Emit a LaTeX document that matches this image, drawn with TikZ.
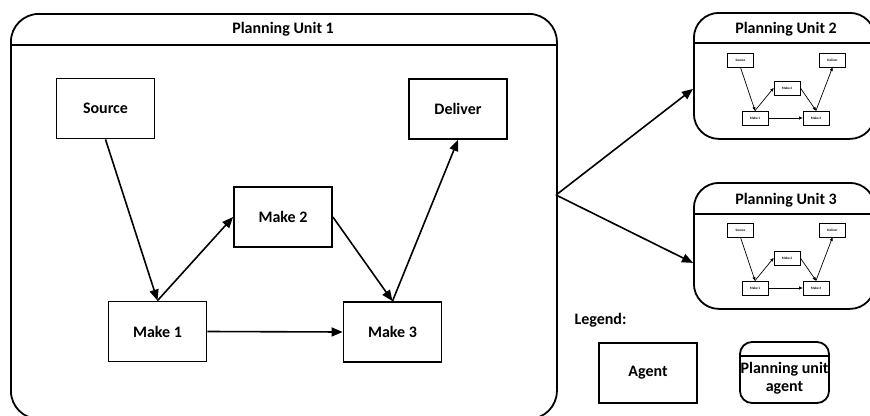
\documentclass[tikz,border=0pt]{standalone}
\usepackage{fontspec}
\setmainfont{Carlito}
\usetikzlibrary{arrows.meta}

\tikzset{
  lbl/.style={font=\bfseries\fontsize{16}{18}\selectfont},
  agent/.style={draw, line width=1.8pt, minimum width=98pt, minimum height=60pt,
                inner sep=0pt, lbl},
  unitbox/.style={draw, line width=1.8pt, inner sep=0pt, anchor=north west},
  rule/.style={line width=1.8pt},
  flow/.style={line width=1.6pt, -{Triangle[length=11pt,width=9pt]}},
  mini/.style={draw, line width=0.8pt, minimum width=26pt, minimum height=14pt,
               inner sep=0pt, font=\bfseries\fontsize{3.4}{4}\selectfont},
  miniflow/.style={line width=0.7pt, -{Triangle[length=3.5pt,width=3pt]}},
}

% small copy of the supply chain drawn inside a planning unit
\newcommand\minichain[2]{%
  \begin{scope}[shift={(0,#2)}]
    \node[mini] (#1s)  at (740.5,60) {Source};
    \node[mini] (#1d)  at (832.5,60) {Deliver};
    \node[mini] (#1m2) at (787,88)   {Make 2};
    \node[mini] (#1m1) at (755,118)  {Make 1};
    \node[mini] (#1m3) at (816,118)  {Make 3};
    \draw[miniflow] (#1s.south)  -- (#1m1.north);
    \draw[miniflow] (#1m1.north) -- (#1m2.west);
    \draw[miniflow] (#1m2.east)  -- (#1m3.north);
    \draw[miniflow] (#1m3.north) -- (#1d.south);
    \draw[miniflow] (#1m1.east)  -- (#1m3.west);
  \end{scope}}

\begin{document}
\begin{tikzpicture}[x=1pt,y=-1pt]
  \useasboundingbox (0,0) rectangle (870,415);

  % planning unit 1
  \node[unitbox, rounded corners=28pt, minimum width=546pt, minimum height=405pt]
    (pu1) at (10,13) {};
  \draw[rule] ([yshift=-32pt]pu1.north west) -- ([yshift=-32pt]pu1.north east);
  \node[lbl] (pu1t) at (283,29) {Planning Unit 1};

  \node[agent] (src)  at (105.5,108.5) {Source};
  \node[agent] (dlv)  at (458,109)     {Deliver};
  \node[agent] (mk2)  at (283,217)     {Make 2};
  \node[agent] (mk1)  at (157.5,331.5) {Make 1};
  \node[agent] (mk3)  at (392.5,332)   {Make 3};

  \draw[flow] (src.south) -- (mk1.north);
  \draw[flow] (mk1.north) -- (mk2.west);
  \draw[flow] (mk2.east)  -- (mk3.north);
  \draw[flow] (mk3.north) -- (dlv.south);
  \draw[flow] (mk1.east)  -- (mk3.west);

  % planning units 2 and 3
  \node[unitbox, rounded corners=25pt, minimum width=181pt, minimum height=126pt]
    (pu2) at (693,12) {};
  \draw[rule] ([yshift=-31pt]pu2.north west) -- ([yshift=-31pt]pu2.north east);
  \node[lbl] (pu2t) at (786,29) {Planning Unit 2};
  \minichain{a}{0}

  \node[unitbox, rounded corners=25pt, minimum width=181pt, minimum height=126pt]
    (pu3) at (693,182) {};
  \draw[rule] ([yshift=-32pt]pu3.north west) -- ([yshift=-32pt]pu3.north east);
  \node[lbl] (pu3t) at (786,200) {Planning Unit 3};
  \minichain{b}{170}

  % links between planning units
  \coordinate (fork) at (556,195);
  \draw[flow] (fork) -- ([yshift=-13pt]pu2.west);
  \draw[flow] (fork) -- ([yshift=-17pt]pu3.west);

  % legend
  \node[lbl, anchor=west] (leg) at (571,320) {Legend:};
  \node[agent] (lagent) at (648,373) {Agent};
  \node[draw, line width=1.8pt, rounded corners=12pt, minimum width=89pt,
        minimum height=61pt, inner sep=0pt] (lpu) at (784.5,372.5) {};
  \draw[rule] ([yshift=-15pt]lpu.north west) -- ([yshift=-15pt]lpu.north east);
  \node[lbl, align=center, inner sep=0pt] (lput) at (784.5,378)
    {Planning unit\\agent};
\end{tikzpicture}
\end{document}
